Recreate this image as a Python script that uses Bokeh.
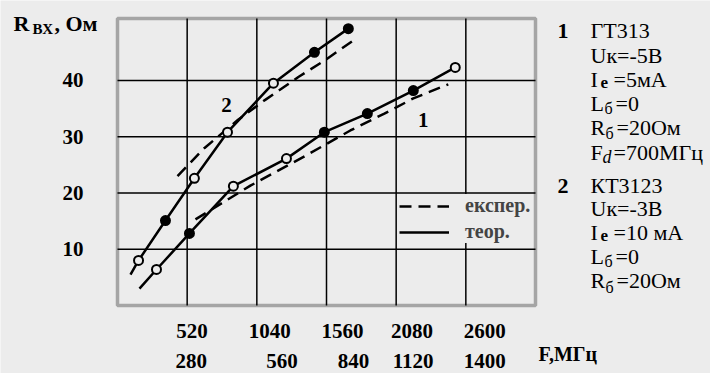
from bokeh.plotting import figure
from bokeh.models import Range1d, FixedTicker, LinearAxis, Legend, LegendItem, BoxAnnotation
from bokeh.core.properties import value
from bokeh.embed import file_html
from bokeh.resources import INLINE

BG = "#ececec"
SERIF = "Liberation Serif"

# ---------------- data ----------------
grid_x = [520, 1040, 1560, 2080, 2600]
grid_y = [10, 20, 30, 40]
row1_labels = ["520", "1040", "1560", "2080", "2600"]
row2_labels = ["280", "560", "840", "1120", "1400"]

# curve 2 (KT3123): theory (solid) and experiment (dashed)
c2_theor_x = [97, 157, 358, 574, 821, 1164, 1470, 1723]
c2_theor_y = [5.5, 8.0, 15.1, 22.6, 30.8, 39.5, 45.0, 49.2]
c2_exp_x = [448, 650, 900, 1100, 1350, 1550, 1790]
c2_exp_y = [23.0, 28.0, 33.0, 36.5, 40.6, 43.6, 47.6]

# curve 1 (GT313)
c1_theor_x = [164, 291, 537, 865, 1261, 1544, 1865, 2208, 2521]
c1_theor_y = [3.0, 6.4, 12.8, 21.2, 26.1, 30.8, 34.1, 38.2, 42.3]
c1_exp_x = [582, 821, 992, 1186, 1410, 1738, 1992, 2208, 2469]
c1_exp_y = [15.3, 18.8, 21.3, 23.8, 26.7, 31.1, 34.1, 36.8, 39.3]

# marker fill style (True = filled); markers sit on theory points after the first
c2_filled = [False, True, False, False, False, True, True]
c1_filled = [False, True, False, False, True, True, True, False]

# ---------------- layout ----------------
W, H = 710, 373
FL, FR, FT, FB = 117, 535, 18, 305      # chart box edges, canvas px
XMAX, YMAX = 3120, 51
PX2X = XMAX / (FR - FL)
PX2Y = YMAX / (FB - FT)
row1_off_px = [5, 13, 16, 16, 19]
row2_off_px = [4, 25, 27, 17, 19]
row1_pos = [int(round(t + o * PX2X)) for t, o in zip(grid_x, row1_off_px)]
row2_pos = [int(round(t + o * PX2X)) for t, o in zip(grid_x, row2_off_px)]

p = figure(width=W, height=H, title=None,
           x_range=Range1d(-FL * PX2X, (W - FL) * PX2X),
           y_range=Range1d(-(H - FB) * PX2Y, YMAX + FT * PX2Y),
           output_backend="svg", toolbar_location=None, min_border=0,
           background_fill_color=BG, border_fill_color=BG)
p.outline_line_color = None
p.grid.grid_line_color = None

# grid lines of the chart box
p.segment(x0=grid_x, y0=[0] * len(grid_x), x1=grid_x, y1=[YMAX] * len(grid_x),
          line_color="black", line_width=1.5)
p.segment(x0=[0] * len(grid_y), y0=grid_y, x1=[XMAX] * len(grid_y), y1=grid_y,
          line_color="black", line_width=1.5)


def style_axis(ax, standoff):
    ax.fixed_location = 0
    ax.axis_line_color = None
    ax.major_tick_line_color = None
    ax.minor_tick_line_color = None
    ax.major_label_text_font = SERIF
    ax.major_label_text_font_style = "bold"
    ax.major_label_text_font_size = "21px"
    ax.major_label_text_color = "black"
    ax.major_label_standoff = standoff


xa = p.xaxis[0]
xa.ticker = FixedTicker(ticks=row1_pos)
xa.major_label_overrides = {k: v for k, v in zip(row1_pos, row1_labels)}
style_axis(xa, 12)

xa2 = LinearAxis(ticker=FixedTicker(ticks=row2_pos),
                 major_label_overrides={k: v for k, v in zip(row2_pos, row2_labels)})
style_axis(xa2, 42)
p.add_layout(xa2, "below")

ya = p.yaxis[0]
ya.ticker = FixedTicker(ticks=grid_y)
ya.major_label_overrides = {t: str(t) for t in grid_y}
style_axis(ya, 28)

# ---------------- curves ----------------
LW = 2.5
DASH = "12 7"
l2t = p.line(c2_theor_x, c2_theor_y, line_color="black", line_width=LW)
l2e = p.line(c2_exp_x, c2_exp_y, line_color="black", line_width=LW, line_dash=DASH)
l1t = p.line(c1_theor_x, c1_theor_y, line_color="black", line_width=LW)
l1e = p.line(c1_exp_x, c1_exp_y, line_color="black", line_width=LW, line_dash=DASH)

for xs, ys, fl in ((c2_theor_x, c2_theor_y, c2_filled), (c1_theor_x, c1_theor_y, c1_filled)):
    p.scatter(xs[1:], ys[1:], marker="circle", size=9,
              fill_color=["black" if f else BG for f in fl],
              line_color="black", line_width=2)

# curve numbers
p.text(x=[813, 2283], y=[35.6, 32.9], text=["2", "1"],
       text_font=value(SERIF), text_font_style="bold", text_font_size="21px",
       text_align="center", text_baseline="middle", text_color="black")

# chart box outline
p.add_layout(BoxAnnotation(left=0, right=XMAX, bottom=0, top=YMAX,
                           fill_alpha=0, line_color="black", line_width=3.5))

# ---------------- legend ----------------
legend = Legend(items=[LegendItem(label="експер.", renderers=[l1e]),
                       LegendItem(label="теор.", renderers=[l1t])],
                location=(282 + FL, 62 + (H - FB)), orientation="vertical",
                glyph_width=50, glyph_height=20, label_height=20,
                label_standoff=16, padding=2, spacing=3, margin=0,
                border_line_color=None, background_fill_color=BG,
                background_fill_alpha=1.0,
                label_text_font=SERIF, label_text_font_style="bold",
                label_text_font_size="20px")
p.add_layout(legend)


# ---------------- free texts (canvas px, alphabetic baseline) ----------------
def txt(s, cx, cy, size=22, style="normal"):
    p.text(x=[(cx - FL) * PX2X], y=[(FB - cy) * PX2Y], text=[s],
           text_font=value(SERIF), text_font_style=style,
           text_font_size=f"{size}px", text_baseline="alphabetic",
           text_align="left", text_color="black")


# y axis title
txt("R", 13, 23, 22, "bold")
txt("ВХ", 32, 28, 15, "bold")
txt(", Ом", 54, 23, 22, "bold")
# x axis title
txt("F,МГц", 538, 353, 20, "bold")

# right block
txt("1", 557, 30, 22, "bold")
txt("ГТ313", 590, 30)
txt("Uк=-5В", 590, 55)
txt("I", 590, 79)
txt("е", 600, 82, 17, "bold")
txt("=5мА", 613, 79)
txt("L", 590, 103)
txt("б", 604, 108, 16)
txt("=0", 615, 103)
txt("R", 590, 127)
txt("б", 605, 133, 16)
txt("=20Ом", 616, 127)
txt("F", 590, 152)
txt("d", 602, 156, 18, "italic")
txt("=700МГц", 613, 152)

txt("2", 557, 185, 22, "bold")
txt("КТ3123", 590, 185)
txt("Uк=-3В", 590, 208)
txt("I", 590, 232)
txt("е", 600, 235, 17, "bold")
txt("=10 мА", 613, 232)
txt("L", 590, 256)
txt("б", 604, 261, 16)
txt("=0", 615, 256)
txt("R", 590, 280)
txt("б", 605, 287, 16)
txt("=20Ом", 616, 280)

open("out.html", "w").write(file_html(p, INLINE))
